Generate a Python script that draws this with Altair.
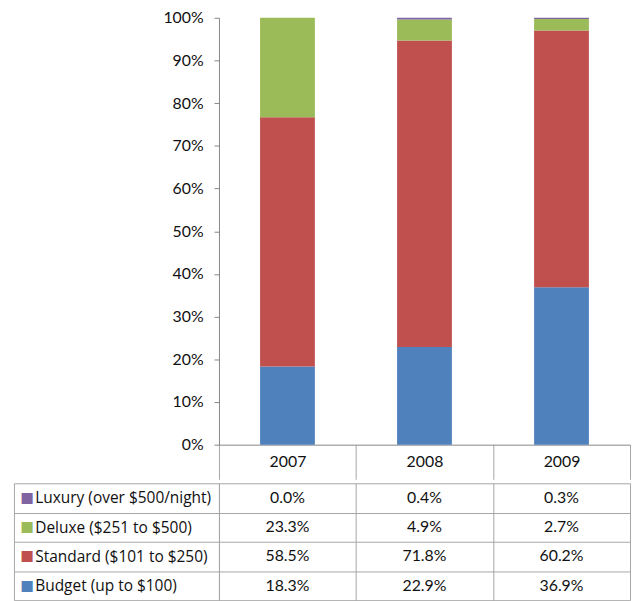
import altair as alt
import pandas as pd

years = ["2007", "2008", "2009"]
categories = [
    "Budget (up to $100)",
    "Standard ($101 to $250)",
    "Deluxe ($251 to $500)",
    "Luxury (over $500/night)",
]
colors = ["#4F81BD", "#C0504D", "#9BBB59", "#8064A2"]
budget = [18.3, 22.9, 36.9]
standard = [58.5, 71.8, 60.2]
deluxe = [23.3, 4.9, 2.7]
luxury = [0.0, 0.4, 0.3]

series = [budget, standard, deluxe, luxury]
rows = []
for ci, (cat, vals) in enumerate(zip(categories, series)):
    for yi, yr in enumerate(years):
        rows.append({"year": yr, "category": cat, "value": vals[yi],
                     "order": ci, "label": f"{vals[yi]:.1f}%"})
df = pd.DataFrame(rows)

FONT = "Lato"
LABEL_FONT = "Open Sans"
AXIS_GRAY = "#868686"
TABLE_GRAY = "#a6a6a6"
table_order = categories[::-1]

bars = alt.Chart(df).mark_bar(width=alt.RelativeBandSize(0.4)).encode(
    x=alt.X("year:N", sort=years,
            scale=alt.Scale(paddingInner=0, paddingOuter=0),
            axis=alt.Axis(title=None, labelAngle=0, tickBand="extent", tickSize=35,
                          tickColor=TABLE_GRAY, domainColor=AXIS_GRAY,
                          labelBaseline="middle", labelPadding=-17.5,
                          labelFontSize=16, labelColor="#111", labelFont=FONT)),
    y=alt.Y("value:Q", stack="normalize",
            scale=alt.Scale(domain=[0, 1], nice=False),
            axis=alt.Axis(title=None, format=".0%",
                          values=[i / 10 for i in range(11)],
                          tickSize=5, labelPadding=11, grid=False,
                          tickColor=AXIS_GRAY, domainColor=AXIS_GRAY,
                          labelFontSize=16, labelColor="#111", labelFont=FONT)),
    color=alt.Color("category:N", scale=alt.Scale(domain=categories, range=colors), legend=None),
    order=alt.Order("order:Q"),
).properties(width=415, height=431)

color_cond = {
    "condition": [
        {"test": f"datum.value === '{c}'", "value": col}
        for c, col in zip(categories[1:], colors[1:])
    ],
    "value": colors[0],
}

cells = alt.Chart(df).mark_text(font=FONT, fontSize=16, color="#111").encode(
    x=alt.X("year:N", sort=years,
            scale=alt.Scale(paddingInner=0, paddingOuter=0),
            axis=alt.Axis(title=None, labels=False, ticks=False, domain=False,
                          grid=True, tickBand="extent", gridColor=TABLE_GRAY, gridOpacity=1)),
    y=alt.Y("category:N", sort=table_order,
            scale=alt.Scale(paddingInner=0, paddingOuter=0),
            axis=alt.Axis(title=None, orient="left", tickBand="extent", tickSize=207,
                          tickColor=TABLE_GRAY, domainColor=TABLE_GRAY,
                          grid=True, gridColor=TABLE_GRAY, gridOpacity=1,
                          labelAlign="left", labelPadding=-21, labelBaseline="middle",
                          labelFontSize=15.6, labelColor="#111", labelFont=LABEL_FONT)),
    text="label:N",
)

keys = alt.Chart(df).mark_point(opacity=0).encode(
    y=alt.Y("category:N", sort=table_order,
            axis=alt.Axis(title=None, orient="left", offset=207, ticks=False,
                          domain=True, domainColor=TABLE_GRAY, grid=False,
                          labelExpr="'■'", labelAlign="left", labelPadding=-6,
                          labelBaseline="middle", labelFontSize=14.5,
                          labelFont="DejaVu Sans", labelColor=color_cond)),
)

table = alt.layer(cells, keys).resolve_axis(y="independent").properties(width=415, height=118)

chart = alt.vconcat(bars, table, spacing=-4).properties(
    padding={"left": 5, "top": -1, "right": 0, "bottom": 0}
).configure_view(stroke=None)

chart.save("out.html", embed_options={"renderer": "svg", "actions": False})
